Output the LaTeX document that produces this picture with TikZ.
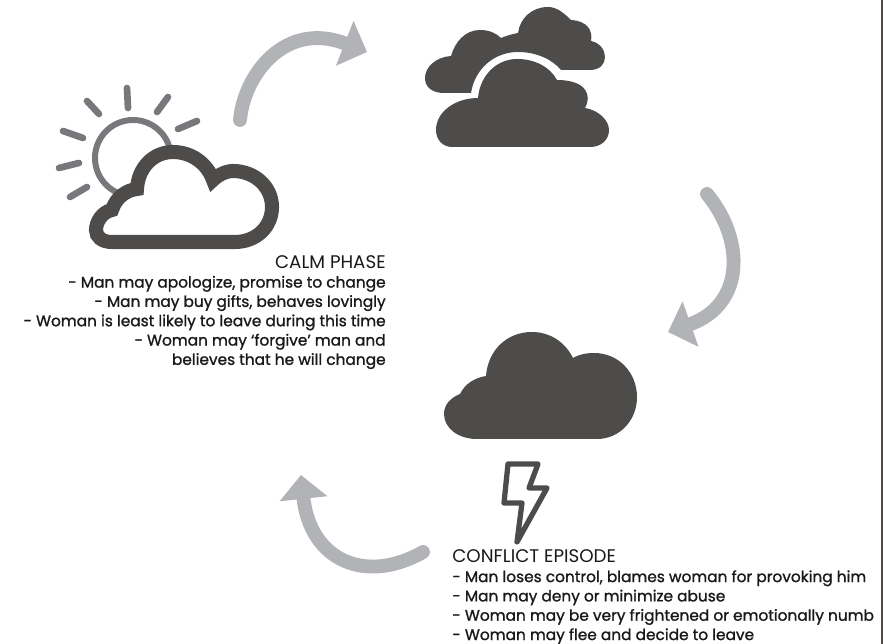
\documentclass[tikz,border=0pt]{standalone}
\usepackage{fontspec}
\setmainfont{Poppins}
\newfontfamily\bodyfont[FakeBold=1.2]{Poppins}
\usetikzlibrary{arrows.meta}
\definecolor{cloudgray}{HTML}{4D4C4B}
\definecolor{sungray}{HTML}{77787B}
\definecolor{cyclegray}{HTML}{B1B3B6}
\newcommand{\bodyline}{\fontsize{8.75}{11}\selectfont\bodyfont}
\begin{document}
\begin{tikzpicture}[x=0.02cm,y=-0.02cm,line join=round,line cap=round,
	>={Triangle[length=13.6pt,width=26.6pt]},
	cloud/.style={fill=cloudgray},
	ray/.style={draw=sungray,line width=3.8pt},
	cycle/.style={->,draw=cyclegray,fill=none,line width=7.9pt,cyclegray},
	phase/.style={inner sep=0pt,text=black!90,font=\fontsize{10.4}{11}\selectfont}]
	\useasboundingbox (0,0) rectangle (883,644);
	\draw[cloudgray,line width=1.1pt] (882,0)--(882,644);
	% arrows of the cycle
	\draw[cycle] (240,120) .. controls (244,75) and (285,20) .. (367,52);
	\draw[cycle] (707,194) .. controls (745,240) and (745,305) .. (668,332);
	\draw[cycle] (423,552) .. controls (365,585) and (310,560) .. (301,475);
	% sun behind the outlined cloud
	\draw[sungray,line width=3.4pt] (133,158) circle (38);
	\foreach \xa/\ya/\xb/\yb in {127/88/128/108,87/101/99/114,168/97/157/112,197/121/178/129,63/131/83/138,59/168/79/163,70/197/87/187
	}{\draw[ray] (\xa,\ya)--(\xb,\yb);}
	\draw[cloudgray,fill=white,line width=8pt,line join=miter]
		(112,242) -- (235,242) .. controls (256,242) and (272,227) .. (272,207)
		.. controls (272,187) and (255,171) .. (233,171) .. controls (226,171) and (218,175) .. (213,180)
		.. controls (207,163) and (191,152) .. (173,152) .. controls (153,152) and (138,168) .. (137,189)
		.. controls (127,190) and (116,197) .. (112,210) .. controls (102,212) and (96,222) .. (96,230)
		.. controls (96,237) and (102,242) .. (112,242) -- cycle;
	% two clouds
	\fill[cloud] (444,93) -- (471,93) .. controls (475,68) and (495,52) .. (518,52)
		.. controls (537,52) and (553,60) .. (561,70) -- (590,70) .. controls (600,70) and (605,64) .. (605,57)
		.. controls (605,50) and (600,43) .. (591,41) .. controls (593,30) and (587,21) .. (571,20)
		.. controls (563,12) and (556,7) .. (548,7) .. controls (532,7) and (520,18) .. (518,33)
		.. controls (512,34) and (506,36) .. (501,38) .. controls (496,33) and (489,30) .. (480,30)
		.. controls (465,30) and (455,42) .. (451,56) .. controls (436,57) and (425,67) .. (425,78)
		.. controls (425,87) and (432,93) .. (444,93) -- cycle;
	\fill[cloud] (452,147) -- (590,147) .. controls (601,147) and (609,140) .. (609,130)
		.. controls (609,120) and (598,110) .. (585,108) .. controls (592,96) and (587,80) .. (557,80)
		.. controls (550,67) and (535,59) .. (517,59) .. controls (497,59) and (480,75) .. (478,98)
		.. controls (455,98) and (436,112) .. (436,130) .. controls (436,140) and (443,147) .. (452,147) -- cycle;
	% storm cloud and bolt
	\fill[cloud] (477,439) -- (597,439) .. controls (619,439) and (637,421) .. (637,397)
		.. controls (637,373) and (619,353) .. (594,353) .. controls (587,353) and (580,354) .. (573,358)
		.. controls (565,342) and (550,332) .. (532,332) .. controls (507,332) and (488,350) .. (486,376)
		.. controls (474,378) and (465,384) .. (460,394) .. controls (450,398) and (444,405) .. (444,414)
		.. controls (444,428) and (458,439) .. (477,439) -- cycle;
	\draw[cloudgray,line width=3pt] (508,464)--(538,464)--(529,488)--(547,488)--(517,542)--(522,503)--(504,503)--cycle;
	% the two texts
	\node[phase,align=right,anchor=north east] (calm) at (386,255) {CALM PHASE\\
		\bodyline - Man may apologize, promise to change\\
		\bodyline - Man may buy gifts, behaves lovingly\\
		\bodyline - Woman is least likely to leave during this time\\
		\bodyline - Woman may ‘forgive’ man and\\
		\bodyline believes that he will change};
	\node[phase,align=left,anchor=north west] (conflict) at (452,549.5) {CONFLICT EPISODE\\
		\bodyline - Man loses control, blames woman for provoking him\\
		\bodyline - Man may deny or minimize abuse\\
		\bodyline - Woman may be very frightened or emotionally numb\\
		\bodyline - Woman may flee and decide to leave};
\end{tikzpicture}
\end{document}
